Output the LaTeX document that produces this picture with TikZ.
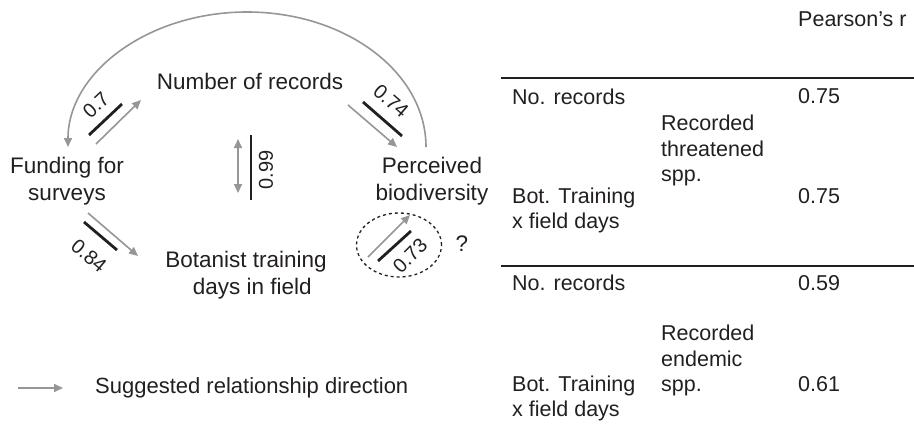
\documentclass[tikz,border=0pt]{standalone}
\usepackage{fontspec}
\setmainfont{Liberation Sans}
\usepackage{tikz}
\usetikzlibrary{arrows.meta,shapes.geometric}
\definecolor{arrowgray}{RGB}{150,150,150}
\definecolor{textgray}{RGB}{35,31,32}

\begin{document}
\begin{tikzpicture}[x=1pt,y=-1pt,
    lbl/.style={inner sep=0pt,text=textgray,font=\fontsize{22.5}{26.5}\selectfont,align=center},
    tbl/.style={inner sep=0pt,text=textgray,font=\fontsize{21.5}{25.5}\selectfont,align=left,anchor=west},
    corr/.style={inner sep=0pt,text=textgray,font=\fontsize{20}{22}\selectfont},
    bar/.style={line width=2.8pt,textgray},
    dir/.style={line width=1.6pt,arrowgray,-{Triangle[length=9pt,width=8pt]}}]
        \useasboundingbox (0,0) rectangle (914,424);
        \node[lbl] (nrec) at (250,81) {Number of records};
        \node[lbl] (fund) at (67,181) {Funding for\\surveys};
        \node[lbl] (perc) at (432,181) {Perceived\\biodiversity};
        \node[lbl] (bot) at (246,275) {Botanist training\\\ \ days in field};
        \coordinate (arcR) at (426,147);
        \coordinate (arcL) at (68,147);
        \draw[dir] (arcR) arc[start angle=0,end angle=-180,x radius=179,y radius=135];
        \coordinate (fa1) at (96,144);
        \coordinate (fa2) at (141,100);
        \coordinate (fb1) at (89,135);
        \coordinate (fb2) at (122,104);
        \draw[dir] (fa1) -- (fa2);
        \draw[bar] (fb1) -- (fb2);
        \node[corr,rotate=43] (c07) at (96,105) {0.7};
        \coordinate (na1) at (348,105);
        \coordinate (na2) at (397,147);
        \coordinate (nb1) at (363,102);
        \coordinate (nb2) at (402,136);
        \draw[dir] (na1) -- (na2);
        \draw[bar] (nb1) -- (nb2);
        \node[corr,rotate=-41] (c074) at (391,101) {0.74};
        \coordinate (va1) at (238,139);
        \coordinate (va2) at (238,193);
        \coordinate (vb1) at (251,135);
        \coordinate (vb2) at (251,200);
        \draw[dir,{Triangle[length=9pt,width=8pt]}-{Triangle[length=9pt,width=8pt]}] (va1) -- (va2);
        \draw[bar] (vb1) -- (vb2);
        \node[corr,rotate=90] (c099) at (266,170) {0.99};
        \coordinate (ba1) at (88,213);
        \coordinate (ba2) at (138,256);
        \coordinate (bb1) at (84,222);
        \coordinate (bb2) at (117,250);
        \draw[dir] (ba1) -- (ba2);
        \draw[bar] (bb1) -- (bb2);
        \node[corr,rotate=-40] (c084) at (89,256) {0.84};
        \node[draw,dashed,line width=1.3pt,textgray,ellipse,minimum width=85pt,minimum height=64pt,inner sep=0pt] (ring) at (399,245) {};
        \coordinate (pa1) at (368,257);
        \coordinate (pa2) at (410,215);
        \coordinate (pb1) at (378,261);
        \coordinate (pb2) at (411,231);
        \draw[dir] (pa1) -- (pa2);
        \draw[bar] (pb1) -- (pb2);
        \node[corr,rotate=45] (c073) at (410,256) {0.73};
        \node[lbl] (ques) at (462,244) {?};
        \coordinate (leg1) at (18,388);
        \coordinate (leg2) at (63,388);
        \draw[dir] (leg1) -- (leg2);
        \node[tbl,font=\fontsize{22}{26}\selectfont] (legtxt) at (95,388) {Suggested relationship direction};
        \node[tbl] (pear) at (798,19) {Pearson’s r};
        \draw[line width=1.8pt,textgray] (501,78) -- (914,78);
        \draw[line width=1.8pt,textgray] (501,266) -- (914,266);
        \node[tbl] (nr1) at (512,96.5) {No. records};
        \node[tbl] (r1) at (798,96.5) {0.75};
        \node[tbl] (thr) at (661,150.5) {Recorded\\threatened\\spp.};
        \node[tbl] (bt1) at (512,210.5) {Bot. Training\\x field days};
        \node[tbl] (r2) at (798,196.5) {0.75};
        \node[tbl] (nr2) at (512,283) {No. records};
        \node[tbl] (r3) at (798,283) {0.59};
        \node[tbl] (end) at (661,360.5) {Recorded\\endemic\\spp.};
        \node[tbl] (bt2) at (512,398.5) {Bot. Training\\x field days};
        \node[tbl] (r4) at (798,384) {0.61};
    \end{tikzpicture}
\end{document}
